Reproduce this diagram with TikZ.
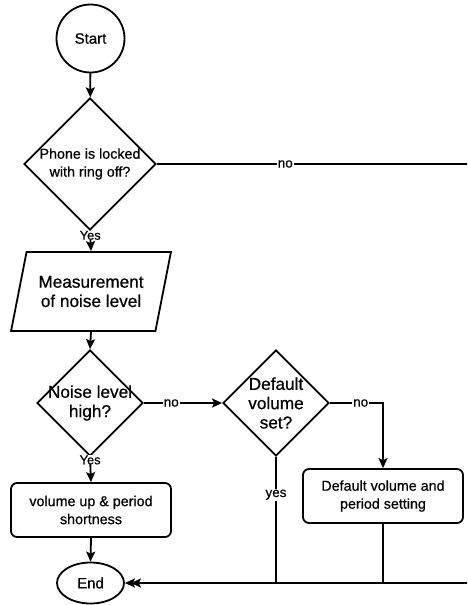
\documentclass[tikz,border=0pt]{standalone}
\usepackage{fontspec}
\setmainfont{Liberation Sans}[FakeBold=0.6]
\usetikzlibrary{shapes.geometric,arrows.meta}
\begin{document}
\begin{tikzpicture}[x=1pt,y=-1pt,line width=1.8pt,
  txt/.style={font=\fontsize{14.3}{18}\selectfont,align=center},
  big/.style={font=\fontsize{17.2}{19.3}\selectfont,align=center},
  dia/.style={diamond,draw,minimum width=#1,minimum height=#1,inner sep=0pt},
  procbox/.style={draw,rectangle,rounded corners=6pt,minimum width=160,minimum height=54,inner sep=0pt,txt},
  iobox/.style={draw,trapezium,trapezium left angle=68,trapezium right angle=112,
    trapezium stretches=true,minimum width=160,minimum height=79,inner sep=0pt,big},
  arr/.style={-{Stealth[length=10pt,width=9pt,inset=2pt]}},
  dblarr/.style={-{Stealth[length=10pt,width=9pt,inset=2pt,sep=-4pt]Stealth[length=10pt,width=9pt,inset=2pt]}},
  lbl/.style={fill=white,inner sep=1pt,font=\fontsize{13.5}{15}\selectfont}
]
\useasboundingbox (0,0) rectangle (467,605);
\clip (0,0) rectangle (467,605);
\fill[white] (0,0) rectangle (467,605);

% shapes
\node[draw,circle,minimum size=68,inner sep=0pt,font=\fontsize{15}{18}\selectfont] (start) at (90.5,38.5) {Start};
\node[dia=132,label={[txt]center:Phone is locked\\with ring off?}] (d1) at (90,164) {};
\node[iobox] (meas) at (91,291.5) {Measurement\\of noise level};
\node[dia=106,label={[big]center:Noise level\\high?}] (d2) at (90,403) {};
\node[dia=106,label={[big]center:Default\\volume\\set?}] (d3) at (276,403) {};
\node[procbox] (up) at (91,510) {volume up \& period\\shortness};
\node[procbox] (def) at (383,496) {Default volume and\\period setting};
\node[draw,ellipse,minimum width=67,minimum height=41,inner sep=0pt,font=\fontsize{15}{18}\selectfont] (end) at (90.5,583) {End};

\coordinate (rt) at (470,164);
\coordinate (rb) at (470,583);

% connectors
\draw[arr] (start) -- (d1);
\draw[arr] (d1.south) -- node[lbl,pos=0.22,font=\fontsize{12.8}{14}\selectfont,inner sep=0pt]{Yes} (meas.north);
\draw[arr] (meas.south) -- (d2.north);
\draw[arr] (d2.east) -- node[lbl,pos=0.35]{no} (d3.west);
\draw[arr] (d3.east) -| node[lbl,pos=0.29]{no} (def.north);
\draw[arr] (d2.south) -- node[lbl,pos=0.12,font=\fontsize{12.8}{14}\selectfont,inner sep=0pt]{Yes} (up.north);
\draw[arr] (up.south) -- (end.north);
\draw[dblarr] (d1.east) -- node[lbl,pos=0.41]{no} (rt) -- (rb) -- (end.east);
\draw (d3.south) -- node[lbl,pos=0.3]{yes} (d3.south |- end.east);
\draw (def.south) -- (def.south |- end.east);
\end{tikzpicture}
\end{document}
